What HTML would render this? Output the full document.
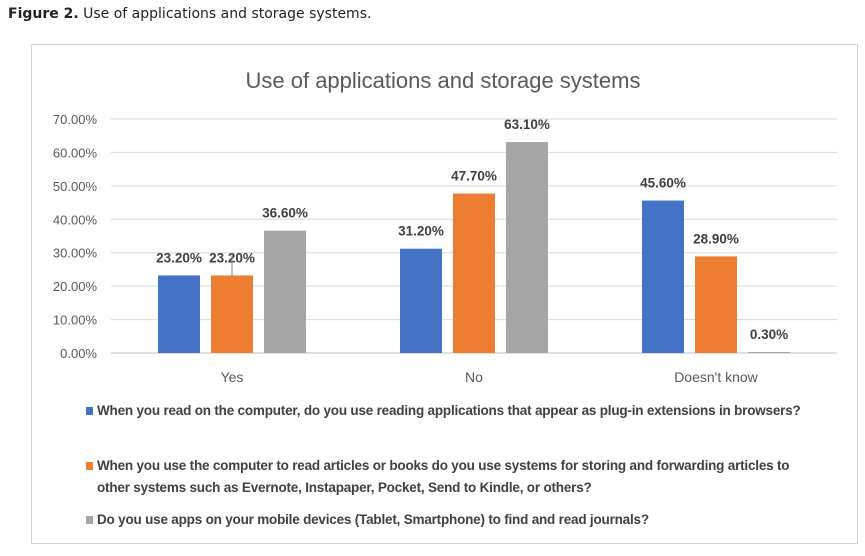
<!DOCTYPE html>
<html><head><meta charset="utf-8"><style>
body{margin:0;background:#fff;width:865px;height:556px;overflow:hidden;font-family:"Liberation Sans",sans-serif}
#cap{position:absolute;left:8px;top:6px;font-size:14px;color:#222;font-family:"DejaVu Sans",sans-serif}
#box{position:absolute;left:31px;top:44px;width:827px;height:500px;border:1px solid #d4d4d4;box-sizing:border-box}
.leg{position:absolute;left:97px;font-size:13.5px;color:#404040;font-weight:bold;line-height:22px;width:718px;letter-spacing:-0.2px}
.sq{position:absolute;left:-11px;top:7px;width:7px;height:8px}
</style></head><body>
<div id="cap"><b>Figure 2.</b> Use of applications and storage systems.</div>
<div id="box"></div>
<svg id="chart" width="865" height="556" style="position:absolute;left:0;top:0">
<text x="443" y="88" text-anchor="middle" font-size="22" fill="#595959">Use of applications and storage systems</text>
<line x1="232" x2="232" y1="253" y2="277" stroke="#888" stroke-width="1"/>
</svg>
<div class="leg" style="top:400px"><span class="sq" style="background:#4472c4"></span>When you read on the computer, do you use reading applications that appear as plug-in extensions in browsers?</div>
<div class="leg" style="top:455px"><span class="sq" style="background:#ed7d31"></span>When you use the computer to read articles or books do you use systems for storing and forwarding articles to other systems such as Evernote, Instapaper, Pocket, Send to Kindle, or others?</div>
<div class="leg" style="top:509px"><span class="sq" style="background:#a5a5a5"></span>Do you use apps on your mobile devices (Tablet, Smartphone) to find and read journals?</div>
<script>
const categories=["Yes","No","Doesn't know"];
const seriesPlugin=[23.2,31.2,45.6];
const seriesStoring=[23.2,47.7,28.9];
const seriesMobile=[36.6,63.1,0.3];
const ticks=[0,10,20,30,40,50,60,70];
const series=[seriesPlugin,seriesStoring,seriesMobile];
const colors=["#4472c4","#ed7d31","#a5a5a5"];
const names=["plugin","storing","mobile"];
const svg=document.getElementById('chart');
const NS="http://www.w3.org/2000/svg";
const x0=111,x1=837,yBase=353,yTop=119;
const y=v=>yBase-(v/70)*(yBase-yTop);
const gw=(x1-x0)/categories.length;
const bw=42,gap=11;
function mk(t,a){const e=document.createElementNS(NS,t);for(const k in a)e.setAttribute(k,a[k]);svg.insertBefore(e,svg.lastElementChild);return e;}
ticks.forEach(t=>{
 const l=mk('line',{x1:x0,x2:x1,y1:y(t),y2:y(t),stroke:t===0?'#bfbfbf':'#d9d9d9','stroke-width':1});
 
 
 const tx=mk('text',{x:97,y:y(t)+5,'text-anchor':'end','font-size':13,fill:'#595959'});
 tx.textContent=t.toFixed(2)+'%';
 
 
});
categories.forEach((c,i)=>{
 const cx=x0+gw*(i+0.5);
 series.forEach((s,j)=>{
  const bx=cx+(j-1)*(bw+gap)-bw/2;
  const r=mk('rect',{x:bx,y:y(s[i]),width:bw,height:yBase-y(s[i]),fill:colors[j]});
  
  
  const lb=mk('text',{x:bx+bw/2,y:y(s[i])-13,'text-anchor':'middle','font-size':13.5,'font-weight':'bold',fill:'#404040'});
  lb.textContent=s[i].toFixed(2)+'%';
  
  
 });
 const t=mk('text',{x:cx,y:382,'text-anchor':'middle','font-size':14,fill:'#595959'});
 t.textContent=c;
 
 
});
</script>
</body></html>
